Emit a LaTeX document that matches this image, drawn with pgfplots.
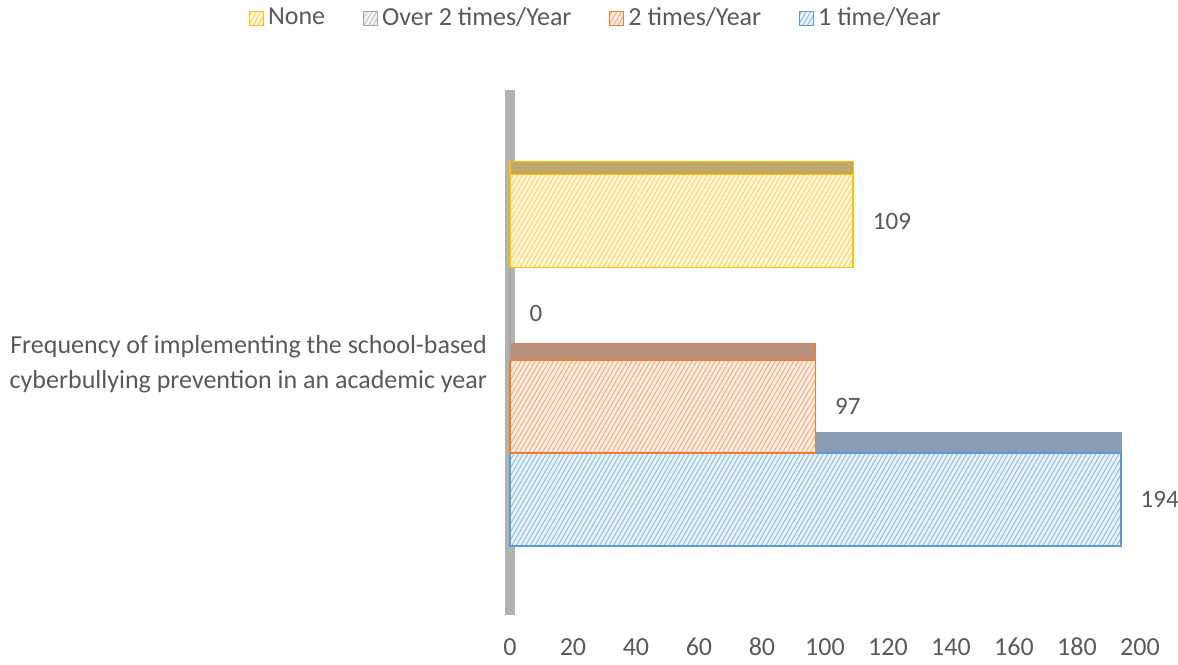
\documentclass[border=0pt]{standalone}
\usepackage{pgfplots}
\pgfplotsset{compat=1.18}
\usepackage{fontspec}
\setmainfont{Carlito}
\usetikzlibrary{patterns.meta}
\definecolor{txt}{HTML}{595959}
\definecolor{cyel}{HTML}{FFC000}
\definecolor{cgray}{HTML}{A5A5A5}
\definecolor{cora}{HTML}{ED7D31}
\definecolor{cblue}{HTML}{5B9BD5}
\definecolor{tyel}{HTML}{C2A868}
\definecolor{tora}{HTML}{B8917C}
\definecolor{tblue}{HTML}{8A9CB2}
\tikzset{
  hatch/.style={fill=#1!12, postaction={pattern={Lines[angle=60,distance=2pt,line width=0.5pt]}, pattern color=#1!65}, draw=#1, line width=0.9pt},
  tophatch/.style={fill=#1, draw=#1, line width=0.6pt},
}
\begin{document}
\begin{tikzpicture}
\begin{axis}[
  at={(0,0)}, anchor=south west,
  scale only axis, width=315pt, height=262.5pt,
  xmin=0, xmax=200, ymin=-0.24, ymax=5.41,
  xbar, bar width=1, bar shift=0pt,
  axis x line*=bottom, x axis line style={draw=none},
  axis y line*=left, y axis line style={draw=cgray!85, line width=5pt, -},
  xtick={0,20,...,200}, major tick length=0pt,
  ytick={2.5},
  yticklabels={{Frequency of implementing the school-based\\cyberbullying prevention in an academic year}},
  yticklabel style={align=right, font=\fontsize{13}{17.5}\selectfont, text=txt, xshift=-8pt, yshift=-2pt},
  xticklabel style={font=\fontsize{13}{15}\selectfont, text=txt, text height=9.5pt, text depth=0pt, yshift=-7pt},
  /pgf/number format/assume math mode=true,
  legend style={at={(0.138,1.137)}, anchor=center, draw=none, legend columns=4,
    font=\fontsize{13}{15}\selectfont, text=txt,
    /tikz/every even column/.append style={column sep=17pt}},
  legend image code/.code={\draw[#1, line width=0.5pt] (0pt,-3.5pt) rectangle (7pt,3.5pt);},
  reverse legend,
  nodes near coords style={font=\fontsize{12.5}{14}\selectfont, text=txt, anchor=west, xshift=6pt},
  clip=false,
]
% 1 time/Year
\addplot[tophatch=tblue, bar width=0.22, bar shift=0.61, forget plot] coordinates {(194,1)};
\addplot[hatch=cblue, nodes near coords] coordinates {(194,1)};
% 2 times/Year
\addplot[tophatch=tora, bar width=0.18, bar shift=0.59, draw=cora, forget plot] coordinates {(97,2)};
\addplot[hatch=cora, nodes near coords] coordinates {(97,2)};
% Over 2 times/Year
\addplot[hatch=cgray, nodes near coords, nodes near coords style={xshift=0pt}] coordinates {(0,3)};
% None
\addplot[tophatch=tyel, bar width=0.14, bar shift=0.57, draw=cyel, forget plot] coordinates {(109,4)};
\addplot[hatch=cyel, nodes near coords] coordinates {(109,4)};
\legend{1 time/Year, 2 times/Year, Over 2 times/Year, None}
\end{axis}
\pgfresetboundingbox
\path[use as bounding box] (-255pt,-24.5pt) rectangle (334pt,307.5pt);
\end{tikzpicture}
\end{document}
